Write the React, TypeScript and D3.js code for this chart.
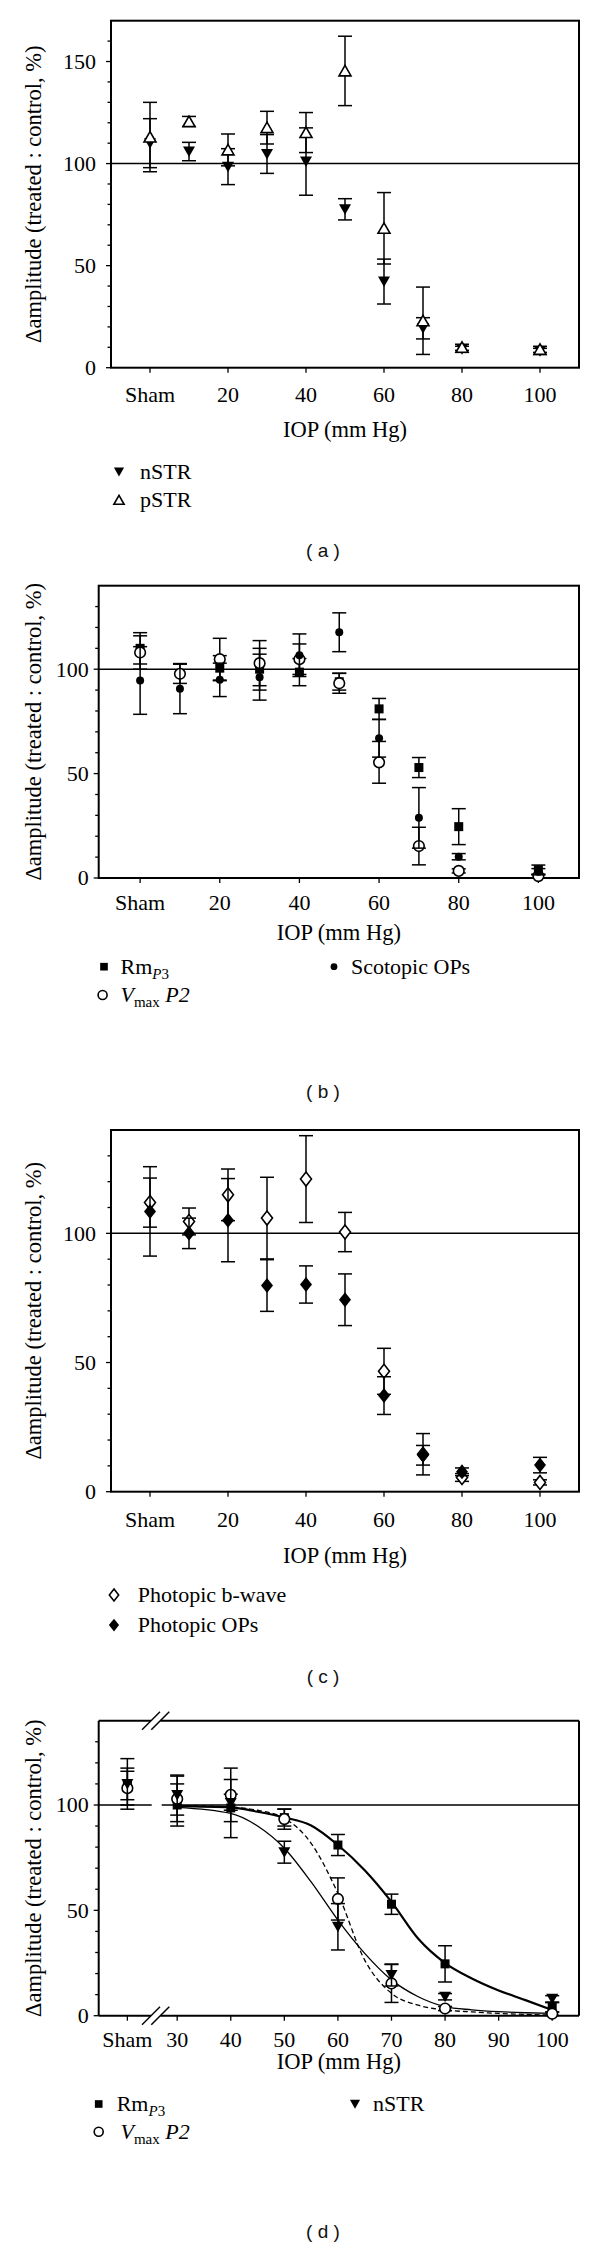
import React from "react";
import * as d3 from "d3";

// ---------- data ----------
// IOP levels for panels (a)-(c); 0 = Sham
const iopLevels = [0, 10, 20, 30, 40, 50, 60, 70, 80, 100];
const xTickValuesAC = [0, 20, 40, 60, 80, 100];
const xTickLabelsAC = ["Sham", "20", "40", "60", "80", "100"];

// panel (a)
const nSTR = [110, 105.9, 98.5, 104.7, 101, 77.6, 42.2, 19.3, 9, 8];
const nSTRErr = [12, 4.5, 8.8, 9.5, 16.5, 5.2, 11, 5.2, 1.5, 1.5];
const pSTR = [113, 120.6, 106.7, 117.6, 115.2, 145.4, 68.3, 23, 10, 9];
const pSTRErr = [17, 2.5, 7.8, 8, 9.8, 17, 17.5, 16.5, 1.5, 1.5];

// panel (b)
const rmP3 = [110, null, 100.5, 100, 98.6, 94, 81, 52.9, 24.6, 4];
const rmP3Err = [7.5, null, 6, 10, 6.5, 4, 5, 4.8, 8.6, 2.2];
const vmaxP2 = [108, 97.8, 104.8, 102.9, 104.8, 93.3, 55.4, 15.3, 3.4, 0.9];
const vmaxP2Err = [8, 4.6, 10, 10.8, 7.3, 4.8, 10, 9, 1, 0.8];
const scotOPs = [94.6, 90.7, 94.9, 96.2, 106.7, 117.7, 66.9, 28.8, 10.2, 3];
const scotOPsErr = [16.2, 12, 8, 11, 10.2, 9.3, 9, 14.5, 1.5, 1.5];

// panel (c)
const photB = [111.9, 104.6, 114.9, 105.9, 121, 100.5, 46.6, 14.5, 5.5, 3.6];
const photBErr = [9.5, 5.2, 10, 15.8, 16.8, 7.6, 8.9, 8, 1.5, 1];
const photOPs = [108.5, 100, 105.1, 79.8, 80.2, 74.3, 37.2, 14.1, 7.7, 10.3];
const photOPsErr = [17.3, 5.9, 16.1, 10, 7.2, 10, 7.3, 3.8, 1.5, 3];

// panel (d)
const dLevels = [0, 30, 40, 50, 60, 70, 80, 100];
const dShamPos = 20.7;
const xTickValuesD = [dShamPos, 30, 40, 50, 60, 70, 80, 90, 100];
const xTickLabelsD = ["Sham", "30", "40", "50", "60", "70", "80", "90", "100"];
const fitX = [30, 40, 45, 50, 55, 60, 65, 70, 75, 80, 85, 90, 95, 100];
const rmFit = [99.5, 98.9, 96.8, 94.1, 90.3, 81, 69, 54, 36.5, 25, 17.7, 12, 7.4, 2.7];
const nSTRFit = [98.9, 96, 90, 79.5, 63.5, 45.4, 29.6, 17, 9, 4.3, 2.8, 1.9, 1.4, 1.1];
const vmaxFit = [99.8, 99, 97.5, 93.7, 81.8, 58, 26.4, 10.6, 5, 2.7, 1.8, 1.1, 0.6, 0.3];

const Y_LABEL = "\u0394amplitude (treated : control, %)";
const X_TITLE = "IOP (mm Hg)";

// ---------- style ----------
const SERIF = "'Liberation Serif', 'Times New Roman', serif";
const SANS = "'Liberation Sans', Arial, sans-serif";
const FS = 22;

type P = {
  top: number; bottom: number; left: number; right: number;
  xDomain: [number, number]; yMax: number; yMajor: number[];
  labelGap: number; xLabDy: number; xTitleDy: number;
  xTicks: number[]; xLabels: string[]; brk?: boolean;
};

function scales(p: P) {
  const x = d3.scaleLinear().domain(p.xDomain).range([p.left, p.right]);
  const y = d3.scaleLinear().domain([0, p.yMax]).range([p.bottom, p.top]);
  return { x, y };
}

function Frame({ p }: { p: P }) {
  const { x, y } = scales(p);
  const minor = d3.range(10, p.yMax, 10).filter((v) => v % 50 !== 0);
  const cy = (p.top + p.bottom) / 2;
  const cx = (p.left + p.right) / 2;
  const gap = [151, 160.3];
  return (
    <g>
      {p.brk ? (
        <g stroke="#000" strokeWidth={2} fill="none">
          <line x1={p.left} x2={p.left} y1={p.top} y2={p.bottom} />
          <line x1={p.right} x2={p.right} y1={p.top} y2={p.bottom} />
          <line x1={p.left} x2={gap[0]} y1={p.top} y2={p.top} />
          <line x1={gap[1]} x2={p.right} y1={p.top} y2={p.top} />
          <line x1={p.left} x2={gap[0]} y1={p.bottom} y2={p.bottom} />
          <line x1={gap[1]} x2={p.right} y1={p.bottom} y2={p.bottom} />
          {[p.top, p.bottom].map((yy, i) => (
            <g key={i} strokeWidth={1.5}>
              <line x1={gap[0] - 9} y1={yy + 9} x2={gap[0] + 9} y2={yy - 9} />
              <line x1={gap[1] - 9} y1={yy + 9} x2={gap[1] + 9} y2={yy - 9} />
            </g>
          ))}
          <line x1={p.left} x2={gap[0] + 0.7} y1={y(100)} y2={y(100)} strokeWidth={1.5} />
          <line x1={gap[1] + 1.4} x2={p.right} y1={y(100)} y2={y(100)} strokeWidth={1.5} />
        </g>
      ) : (
        <g stroke="#000" fill="none">
          <rect x={p.left} y={p.top} width={p.right - p.left} height={p.bottom - p.top} strokeWidth={2} />
          <line x1={p.left} x2={p.right} y1={y(100)} y2={y(100)} strokeWidth={1.5} />
        </g>
      )}
      <g stroke="#000" strokeWidth={1.3}>
        {p.yMajor.map((v) => (
          <line key={v} x1={p.left - 5} x2={p.left} y1={y(v)} y2={y(v)} />
        ))}
        {minor.map((v) => (
          <line key={v} x1={p.left - 3.5} x2={p.left} y1={y(v)} y2={y(v)} />
        ))}
        {p.xTicks.map((v) => (
          <line key={v} x1={x(v)} x2={x(v)} y1={p.bottom} y2={p.bottom + 5} />
        ))}
      </g>
      <g fontFamily={SERIF} fontSize={FS} fill="#000">
        {p.yMajor.map((v) => (
          <text key={v} x={p.left - p.labelGap} y={y(v)} dy="0.34em" textAnchor="end">{v}</text>
        ))}
        {p.xTicks.map((v, i) => (
          <text key={v} x={x(v)} y={p.bottom + p.xLabDy} dy="0.34em" textAnchor="middle">{p.xLabels[i]}</text>
        ))}
        <text x={cx} y={p.bottom + p.xTitleDy} dy="0.34em" textAnchor="middle" fontSize={22.5}>{X_TITLE}</text>
        <text transform={`translate(33,${cy}) rotate(-90)`} textAnchor="middle" dy="0.34em" fontSize={22.5}>{Y_LABEL}</text>
      </g>
    </g>
  );
}

type MType = "triDown" | "triUp" | "square" | "circle" | "dot" | "diamond" | "diamondFill";

function Marker({ t, cx, cy, s = 1 }: { t: MType; cx: number; cy: number; s?: number }) {
  const sw = 1.6;
  switch (t) {
    case "triDown":
      return <path d={`M${cx - 6 * s},${cy - 5 * s}L${cx + 6 * s},${cy - 5 * s}L${cx},${cy + 5.5 * s}Z`} fill="#000" />;
    case "triUp":
      return <path d={`M${cx - 6 * s},${cy + 5 * s}L${cx + 6 * s},${cy + 5 * s}L${cx},${cy - 5.5 * s}Z`} fill="#fff" stroke="#000" strokeWidth={sw} />;
    case "square":
      return <rect x={cx - 4.5 * s} y={cy - 4.5 * s} width={9 * s} height={9 * s} fill="#000" />;
    case "circle":
      return <circle cx={cx} cy={cy} r={5.3 * s} fill="#fff" stroke="#000" strokeWidth={sw} />;
    case "dot":
      return <circle cx={cx} cy={cy} r={4 * s} fill="#000" />;
    case "diamond":
      return <path d={`M${cx},${cy - 7 * s}L${cx + 5.5 * s},${cy}L${cx},${cy + 7 * s}L${cx - 5.5 * s},${cy}Z`} fill="#fff" stroke="#000" strokeWidth={sw} />;
    case "diamondFill":
      return <path d={`M${cx},${cy - 7.5 * s}L${cx + 6 * s},${cy}L${cx},${cy + 7.5 * s}L${cx - 6 * s},${cy}Z`} fill="#000" />;
  }
  return null;
}

function Series({ p, xs, vals, errs, t }: { p: P; xs: number[]; vals: (number | null)[]; errs: (number | null)[]; t: MType }) {
  const { x, y } = scales(p);
  const pts = xs.map((xv, i) => ({ xv, v: vals[i], e: errs[i] })).filter((d) => d.v != null) as { xv: number; v: number; e: number }[];
  return (
    <g>
      <g stroke="#000" strokeWidth={1.5}>
        {pts.map((d, i) => {
          const px = x(d.xv);
          const y1 = y(d.v + d.e);
          const y2 = y(Math.max(0, d.v - d.e));
          return (
            <g key={i}>
              <line x1={px} x2={px} y1={y1} y2={y2} />
              <line x1={px - 7} x2={px + 7} y1={y1} y2={y1} />
              <line x1={px - 7} x2={px + 7} y1={y2} y2={y2} />
            </g>
          );
        })}
      </g>
      {pts.map((d, i) => (
        <Marker key={i} t={t} cx={x(d.xv)} cy={y(d.v)} />
      ))}
    </g>
  );
}

function Fit({ p, ys, w, dash }: { p: P; ys: number[]; w: number; dash?: string }) {
  const { x, y } = scales(p);
  const line = d3
    .line<number>()
    .x((_, i) => x(fitX[i]))
    .y((v) => y(v))
    .curve(d3.curveMonotoneX);
  return <path d={line(ys) || ""} fill="none" stroke="#000" strokeWidth={w} strokeDasharray={dash} />;
}

function LegendItem({ t, mx, tx, y, children, s = 0.85 }: any) {
  return (
    <g>
      <Marker t={t} cx={mx} cy={y} s={s} />
      <text x={tx} y={y} dy="0.34em" fontFamily={SERIF} fontSize={FS} fill="#000">{children}</text>
    </g>
  );
}

function Caption({ y, label }: { y: number; label: string }) {
  return (
    <text x={323} y={y} dy="0.35em" textAnchor="middle" fontFamily={SANS} fontSize={19} fill="#111">
      {`( ${label} )`}
    </text>
  );
}

const RmText = () => (
  <>
    Rm
    <tspan fontStyle="italic" fontSize={15} dy={5}>P</tspan>
    <tspan fontSize={15}>3</tspan>
  </>
);
const VmaxText = () => (
  <>
    <tspan fontStyle="italic">V</tspan>
    <tspan fontSize={15} dy={5}>max</tspan>
    <tspan fontStyle="italic" dy={-5}>{"\u00a0P2"}</tspan>
  </>
);

const pa: P = {
  top: 20.7, bottom: 367.7, left: 111, right: 579, xDomain: [-10, 110], yMax: 170,
  yMajor: [0, 50, 100, 150], labelGap: 15, xLabDy: 27, xTitleDy: 62,
  xTicks: xTickValuesAC, xLabels: xTickLabelsAC,
};
const pb: P = {
  top: 585.7, bottom: 878, left: 98.7, right: 579, xDomain: [-10.4, 110.2], yMax: 140,
  yMajor: [0, 50, 100], labelGap: 10, xLabDy: 25, xTitleDy: 54,
  xTicks: xTickValuesAC, xLabels: xTickLabelsAC,
};
const pc: P = {
  top: 1130, bottom: 1491.7, left: 111, right: 579, xDomain: [-10, 110], yMax: 140,
  yMajor: [0, 50, 100], labelGap: 15, xLabDy: 28, xTitleDy: 64,
  xTicks: xTickValuesAC, xLabels: xTickLabelsAC,
};
const pd: P = {
  top: 1720.7, bottom: 2015.7, left: 98.7, right: 579, xDomain: [15.35, 105], yMax: 140,
  yMajor: [0, 50, 100], labelGap: 10, xLabDy: 24, xTitleDy: 46,
  xTicks: xTickValuesD, xLabels: xTickLabelsD, brk: true,
};

function pick(arr: (number | null)[]) {
  return dLevels.map((lv) => arr[iopLevels.indexOf(lv)]);
}
const dXs = dLevels.map((lv) => (lv === 0 ? dShamPos : lv));

export default function App() {
  return (
    <svg width={600} height={2247} style={{ position: "absolute", left: 0, top: 0, background: "#fff" }}>
      <rect width={600} height={2247} fill="#fff" />
      {/* (a) */}
      <Frame p={pa} />
      <Series p={pa} xs={iopLevels} vals={nSTR} errs={nSTRErr} t="triDown" />
      <Series p={pa} xs={iopLevels} vals={pSTR} errs={pSTRErr} t="triUp" />
      <LegendItem t="triDown" mx={119} tx={140} y={471.7}>nSTR</LegendItem>
      <LegendItem t="triUp" mx={119} tx={140} y={500}>pSTR</LegendItem>
      <Caption y={550} label="a" />

      {/* (b) */}
      <Frame p={pb} />
      <Series p={pb} xs={iopLevels} vals={rmP3} errs={rmP3Err} t="square" />
      <Series p={pb} xs={iopLevels} vals={vmaxP2} errs={vmaxP2Err} t="circle" />
      <Series p={pb} xs={iopLevels} vals={scotOPs} errs={scotOPsErr} t="dot" />
      <LegendItem t="square" mx={104} tx={120.5} y={966.7}><RmText /></LegendItem>
      <LegendItem t="dot" mx={334} tx={351} y={966.7}>Scotopic OPs</LegendItem>
      <LegendItem t="circle" mx={102.6} tx={120.5} y={995}><VmaxText /></LegendItem>
      <Caption y={1091.7} label="b" />

      {/* (c) */}
      <Frame p={pc} />
      <Series p={pc} xs={iopLevels} vals={photB} errs={photBErr} t="diamond" />
      <Series p={pc} xs={iopLevels} vals={photOPs} errs={photOPsErr} t="diamondFill" />
      <LegendItem t="diamond" mx={114} tx={137.8} y={1595}>Photopic b-wave</LegendItem>
      <LegendItem t="diamondFill" mx={114} tx={137.8} y={1625}>Photopic OPs</LegendItem>
      <Caption y={1676.7} label="c" />

      {/* (d) */}
      <Frame p={pd} />
      <Fit p={pd} ys={rmFit} w={2.2} />
      <Fit p={pd} ys={nSTRFit} w={1.3} />
      <Fit p={pd} ys={vmaxFit} w={1.3} dash="5,3" />
      <Series p={pd} xs={dXs} vals={pick(rmP3)} errs={pick(rmP3Err)} t="square" />
      <Series p={pd} xs={dXs} vals={pick(vmaxP2)} errs={pick(vmaxP2Err)} t="circle" />
      <Series p={pd} xs={dXs} vals={pick(nSTR)} errs={pick(nSTRErr)} t="triDown" />
      <LegendItem t="square" mx={98.7} tx={116.7} y={2104}><RmText /></LegendItem>
      <LegendItem t="triDown" mx={355} tx={373} y={2104}>nSTR</LegendItem>
      <LegendItem t="circle" mx={98.7} tx={120.5} y={2131.7}><VmaxText /></LegendItem>
      <Caption y={2231.7} label="d" />
    </svg>
  );
}
